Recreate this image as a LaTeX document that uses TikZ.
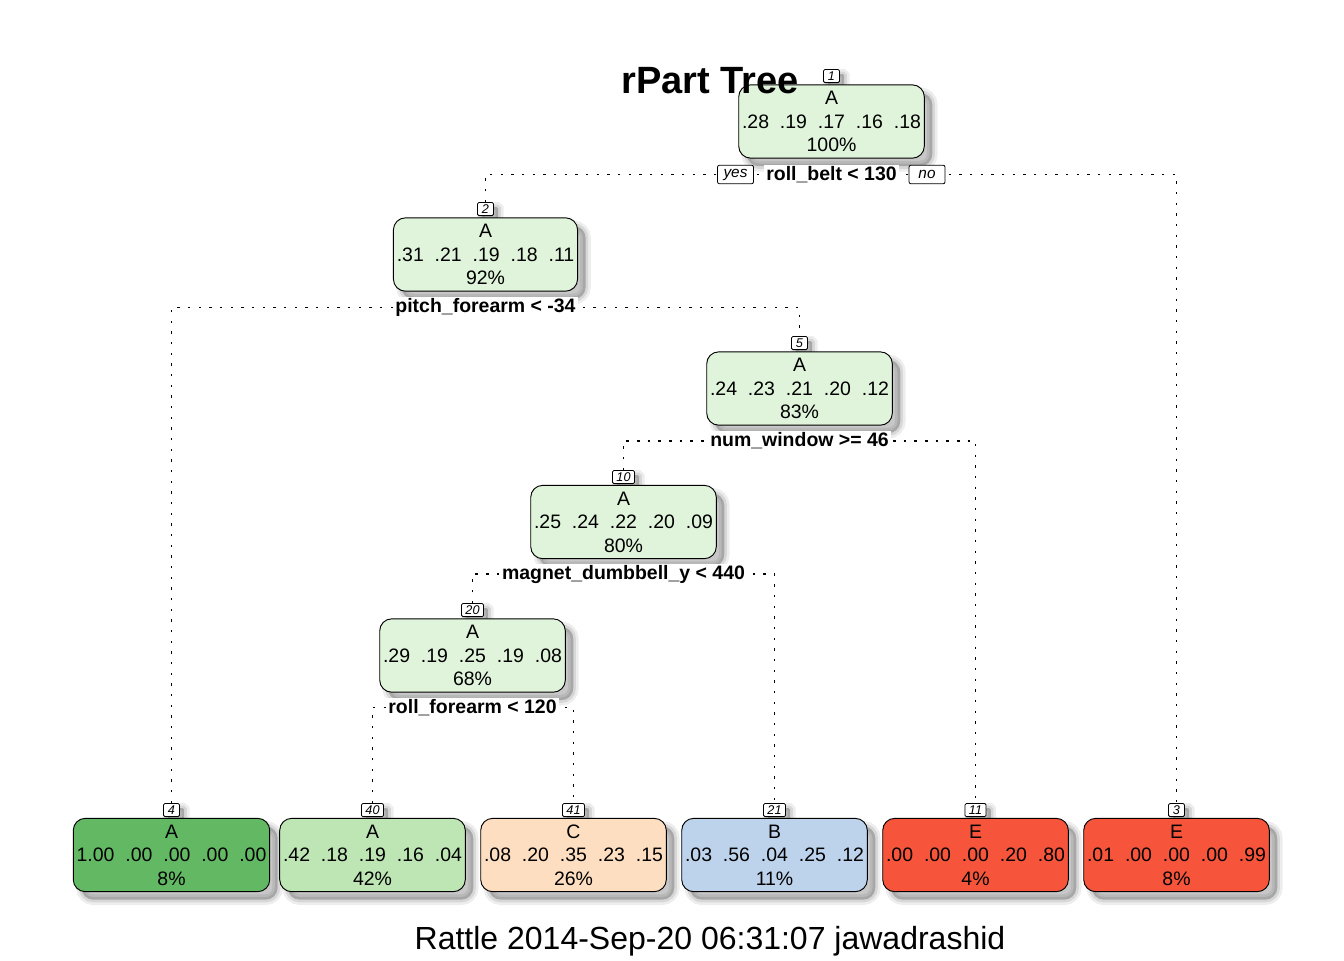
\documentclass[tikz,border=0pt]{standalone}
\usepackage{fontspec}
\setmainfont{Liberation Sans}
\pgfdeclarelayer{background}
\pgfdeclarelayer{canvas}
\pgfsetlayers{canvas,background,main}
\definecolor{cint}{RGB}{224,243,219}
\definecolor{cAdark}{RGB}{99,185,99}
\definecolor{cAlight}{RGB}{190,230,180}
\definecolor{cC}{RGB}{253,222,192}
\definecolor{cB}{RGB}{189,210,235}
\definecolor{cE}{RGB}{246,85,60}
\newcommand\gp{\hspace{0.56em}}
\tikzset{
  shd/.style={
    preaction={draw=black, draw opacity=0.07, line width=8pt, fill=none, transform canvas={xshift=#1, yshift=-#1}},
    preaction={draw=black, draw opacity=0.09, line width=4pt, fill=none, transform canvas={xshift=#1, yshift=-#1}},
    preaction={draw=none, fill=black, fill opacity=0.22, transform canvas={xshift=#1, yshift=-#1}}},
  tn/.style={draw=black, line width=0.7pt, rounded corners=9pt, shd=6pt, align=center,
    font=\fontsize{14.6}{17.6}\selectfont, inner xsep=2.5pt, minimum height=55pt},
  num/.style={draw=black, fill=white, line width=0.6pt, rounded corners=1pt, shd=3.5pt,
    font=\fontsize{9.5}{10}\selectfont\itshape, inner xsep=3pt, inner ysep=0.5pt,
    minimum height=9.8pt, minimum width=12pt, anchor=south},
  split/.style={fill=white, font=\fontsize{14.6}{16}\bfseries\selectfont, inner xsep=1.5pt, inner ysep=1pt},
  yn/.style={draw=black, fill=white, line width=0.6pt, rounded corners=1.5pt,
    font=\fontsize{11.5}{12}\itshape\selectfont, minimum width=27pt, minimum height=14pt, inner sep=0pt},
  dot/.style={line width=0.8pt, dash pattern=on 1.9pt off 6.1pt}
}
\begin{document}
\begin{tikzpicture}[x=0.75pt,y=-0.75pt]
\begin{pgfonlayer}{canvas}
\fill[white] (0,0) rectangle (1344,960);
\end{pgfonlayer}
\useasboundingbox (0,0) rectangle (1344,960);
% node numbers
\node[num] (k1) at (831.5,83) {1};
\node[num] (k2) at (485.5,216) {2};
\node[num] (k5) at (799.5,350) {5};
\node[num] (k10) at (623.5,484) {10};
\node[num] (k20) at (472.5,617) {20};
\node[num] (k4) at (171.5,817) {4};
\node[num] (k40) at (372.5,817) {40};
\node[num] (k41) at (573.5,817) {41};
\node[num] (k21) at (774.5,817) {21};
\node[num] (k11) at (975.5,817) {11};
\node[num] (k3) at (1176.5,817) {3};
% interior nodes
\node[tn, fill=cint] (n1) at (831.5,121.5) {A\\.28\gp.19\gp.17\gp.16\gp.18\\100\%};
\node[tn, fill=cint] (n2) at (485.5,254.5) {A\\.31\gp.21\gp.19\gp.18\gp.11\\92\%};
\node[tn, fill=cint] (n5) at (799.5,388.5) {A\\.24\gp.23\gp.21\gp.20\gp.12\\83\%};
\node[tn, fill=cint] (n10) at (623.5,522) {A\\.25\gp.24\gp.22\gp.20\gp.09\\80\%};
\node[tn, fill=cint] (n20) at (472.5,655.5) {A\\.29\gp.19\gp.25\gp.19\gp.08\\68\%};
% leaves
\node[tn, fill=cAdark] (n4) at (171.5,855) {A\\1.00\gp.00\gp.00\gp.00\gp.00\\8\%};
\node[tn, fill=cAlight] (n40) at (372.5,855) {A\\.42\gp.18\gp.19\gp.16\gp.04\\42\%};
\node[tn, fill=cC] (n41) at (573.5,855) {C\\.08\gp.20\gp.35\gp.23\gp.15\\26\%};
\node[tn, fill=cB] (n21) at (774.5,855) {B\\.03\gp.56\gp.04\gp.25\gp.12\\11\%};
\node[tn, fill=cE] (n11) at (975.5,855) {E\\.00\gp.00\gp.00\gp.20\gp.80\\4\%};
\node[tn, fill=cE] (n3) at (1176.5,855) {E\\.01\gp.00\gp.00\gp.00\gp.99\\8\%};
% split labels
\node[split] (s1) at (831.5,174.5) {roll\_belt < 130};
\node[split] (s2) at (485.5,307.5) {pitch\_forearm < -34};
\node[split] (s5) at (799.5,441) {num\_window >= 46};
\node[split] (s10) at (623.5,574) {magnet\_dumbbell\_y < 440};
\node[split] (s20) at (472.5,707.5) {roll\_forearm < 120};
\node[yn] (yes) at (735.5,174.5) {yes};
\node[yn] (no) at (927,174.5) {no};
% connectors
\begin{pgfonlayer}{background}
\draw[dot] (k2.north) |- (s1.center) -| (k3.north);
\draw[dot] (k4.north) |- (s2.center) -| (k5.north);
\draw[dot] (k10.north) |- (s5.center) -| (k11.north);
\draw[dot] (k20.north) |- (s10.center) -| (k21.north);
\draw[dot] (k40.north) |- (s20.center) -| (k41.north);
\end{pgfonlayer}
% title and footer
\node[font=\fontsize{28.5}{30}\bfseries\selectfont, anchor=base] (title) at (710,93) {rPart Tree};
\node[font=\fontsize{24}{26}\selectfont, anchor=base] (foot) at (710,949) {Rattle 2014-Sep-20 06:31:07 jawadrashid};
\end{tikzpicture}
\end{document}
